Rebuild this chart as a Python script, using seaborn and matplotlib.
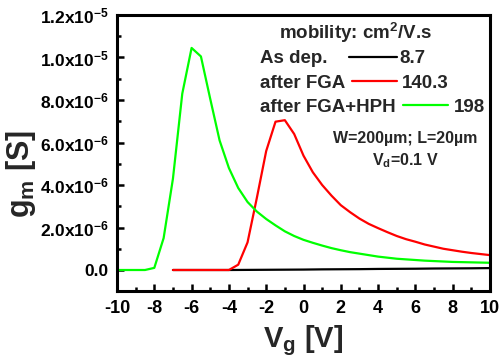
import matplotlib
matplotlib.use("Agg")
import matplotlib.pyplot as plt
from matplotlib.ticker import MultipleLocator, FuncFormatter
import seaborn as sns
import pandas as pd
import numpy as np

# ---------------- data ----------------
vg_asdep = [-7, -6, -5, -4, -3, -2, -1, 0, 1, 2, 3, 4, 5, 6, 7, 8, 9, 10]
gm_asdep = [0, 0, 0, 0, 0.005e-6, 0.01e-6, 0.015e-6, 0.02e-6, 0.03e-6, 0.035e-6,
            0.04e-6, 0.05e-6, 0.055e-6, 0.06e-6, 0.07e-6, 0.075e-6, 0.08e-6, 0.09e-6]

vg_fga = [-7, -6.5, -6, -5.5, -5, -4.5, -4, -3.5, -3, -2.5, -2, -1.5, -1, -0.5, 0,
          0.5, 1, 1.5, 2, 2.5, 3, 3.5, 4, 4.5, 5, 5.5, 6, 6.5, 7, 7.5, 8, 8.5, 9, 9.5, 10]
gm_fga = [0, 0, 0, 0, 0, 0, 0, 0.25e-6, 1.3e-6, 3.4e-6, 5.6e-6, 6.98e-6, 7.05e-6, 6.4e-6, 5.38e-6,
          4.6e-6, 4.0e-6, 3.5e-6, 3.05e-6, 2.72e-6, 2.42e-6, 2.17e-6, 1.97e-6, 1.78e-6, 1.6e-6,
          1.45e-6, 1.33e-6, 1.2e-6, 1.1e-6, 1.0e-6, 0.93e-6, 0.86e-6, 0.8e-6, 0.75e-6, 0.7e-6]

vg_hph = [-10, -9.5, -9, -8.5, -8, -7.5, -7, -6.5, -6, -5.5, -5, -4.5, -4, -3.5, -3, -2.5, -2,
          -1.5, -1, -0.5, 0, 0.5, 1, 1.5, 2, 2.5, 3, 3.5, 4, 4.5, 5, 5.5, 6, 6.5, 7, 7.5, 8,
          8.5, 9, 9.5, 10]
gm_hph = [0, 0, 0, 0, 0.1e-6, 1.5e-6, 4.3e-6, 8.3e-6, 10.45e-6, 10.05e-6, 8.05e-6, 6.1e-6,
          4.8e-6, 3.86e-6, 3.2e-6, 2.75e-6, 2.4e-6, 2.1e-6, 1.82e-6, 1.6e-6, 1.42e-6, 1.28e-6,
          1.15e-6, 1.03e-6, 0.93e-6, 0.84e-6, 0.77e-6, 0.7e-6, 0.63e-6, 0.58e-6, 0.53e-6, 0.5e-6,
          0.47e-6, 0.44e-6, 0.42e-6, 0.4e-6, 0.38e-6, 0.37e-6, 0.36e-6, 0.35e-6, 0.34e-6]

series_names = ["As dep.", "after FGA", "after FGA+HPH"]
mobilities = ["8.7", "140.3", "198"]
colors = ["#000000", "#FF0000", "#00FF00"]

df = pd.concat([
    pd.DataFrame({"Vg": vg_asdep, "gm": gm_asdep, "sample": series_names[0]}),
    pd.DataFrame({"Vg": vg_fga, "gm": gm_fga, "sample": series_names[1]}),
    pd.DataFrame({"Vg": vg_hph, "gm": gm_hph, "sample": series_names[2]}),
], ignore_index=True)

# ---------------- style ----------------
sns.set_style("ticks")
plt.rcParams["font.family"] = ["Liberation Sans", "DejaVu Sans"]
plt.rcParams["font.weight"] = "bold"
plt.rcParams["mathtext.fontset"] = "custom"
plt.rcParams["mathtext.rm"] = "Liberation Sans:bold"
plt.rcParams["mathtext.it"] = "Liberation Sans:bold"
plt.rcParams["mathtext.bf"] = "Liberation Sans:bold"
plt.rcParams["axes.unicode_minus"] = False

fig = plt.figure(figsize=(4.99, 3.62), dpi=100)
W, H = 499, 362
left, right, top, bottom = 117, 490, 15, 291.25
ax = fig.add_axes([left / W, 1 - bottom / H, (right - left) / W, (bottom - top) / H])

sns.lineplot(data=df, x="Vg", y="gm", hue="sample", palette=dict(zip(series_names, colors)),
             hue_order=series_names, linewidth=1.6, legend=False, ax=ax, sort=False,
             estimator=None)

ax.set_xlim(-10, 10)
ax.set_ylim(-1e-6, 1.2e-5)
ax.xaxis.set_major_locator(MultipleLocator(2))
ax.xaxis.set_minor_locator(MultipleLocator(1))
ax.yaxis.set_major_locator(MultipleLocator(2e-6))
ax.yaxis.set_minor_locator(MultipleLocator(1e-6))


def yfmt(v, pos):
    if abs(v) < 1e-12:
        return "0.0"
    exp = int(np.floor(np.log10(abs(v)) + 1e-9))
    mant = v / 10 ** exp
    return r"$\mathbf{%.1fx10}^{\mathbf{%d}}$" % (mant, exp)


ax.yaxis.set_major_formatter(FuncFormatter(yfmt))
ax.xaxis.set_major_formatter(FuncFormatter(lambda v, p: "%d" % round(v)))

for s in ax.spines.values():
    s.set_linewidth(2.2)
    s.set_color("black")
ax.tick_params(which="both", direction="in", top=False, right=False, width=1.8, colors="black")
ax.tick_params(which="major", length=5, labelsize=12.5, pad=6)
ax.tick_params(axis="x", which="major", labelsize=13)
ax.tick_params(which="minor", length=3)
for lab in ax.get_xticklabels() + ax.get_yticklabels():
    lab.set_fontweight("bold")

ax.set_xlabel(r"V$_\mathbf{g}$ [V]", fontsize=21, fontweight="bold", labelpad=5)
ax.set_ylabel(r"g$_\mathbf{m}$ [S]", fontsize=22, fontweight="bold")
ax.yaxis.set_label_coords(-0.212, 0.424)

# ---------------- legend block ----------------
def fx(px):
    return (px - left) / (right - left)


def fy(py):
    return (bottom - py) / (bottom - top)


ax.text(fx(355), fy(39.3), r"mobility: cm$^\mathbf{2}$/V.s", transform=ax.transAxes,
        ha="center", va="baseline", fontsize=13.5, fontweight="bold")
rows_y = [63.3, 88.3, 111.7]
line_x = [(349, 397), (352, 397), (403, 448)]
val_x = [399, 402, 454]
line_y = [57, 81, 105.3]
for name, mob, c, by, (x0, x1), vx, ly in zip(series_names, mobilities, colors, rows_y,
                                              line_x, val_x, line_y):
    ax.text(fx(260), fy(by), name, transform=ax.transAxes, ha="left", va="baseline",
            fontsize=13.5, fontweight="bold")
    ax.plot([fx(x0), fx(x1)], [fy(ly), fy(ly)], color=c, lw=1.6, transform=ax.transAxes)
    ax.text(fx(vx), fy(by), mob, transform=ax.transAxes, ha="left", va="baseline",
            fontsize=13.5, fontweight="bold")

ax.text(fx(405), fy(143.3), "W=200µm; L=20µm", transform=ax.transAxes, ha="center",
        va="baseline", fontsize=11.5, fontweight="bold")
ax.text(fx(405), fy(165), r"V$_\mathbf{d}$=0.1 V", transform=ax.transAxes, ha="center",
        va="baseline", fontsize=11.5, fontweight="bold")

fig.savefig("out.png", dpi=100)
